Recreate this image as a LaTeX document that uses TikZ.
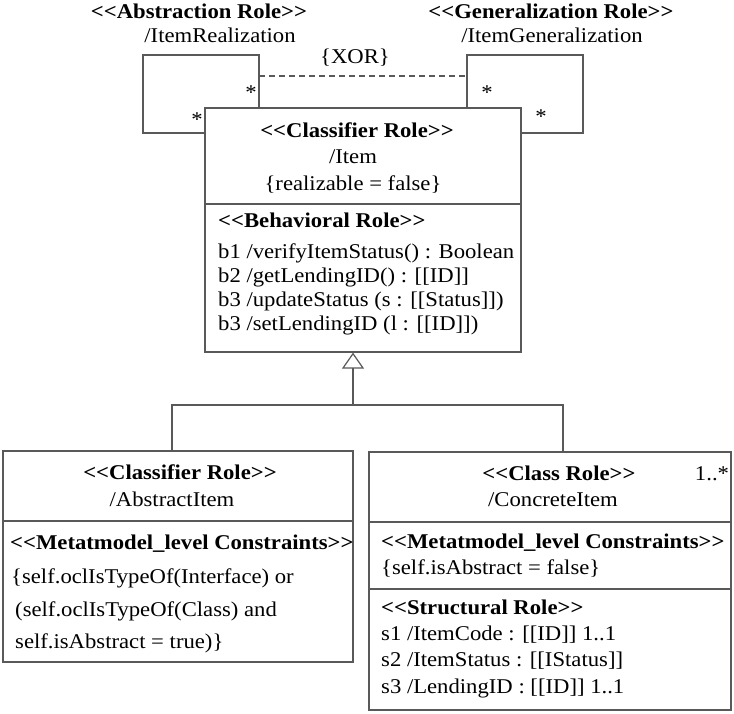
\documentclass[tikz,border=0pt]{standalone}
\usepackage{fontspec}
\setmainfont{Liberation Serif}[Ligatures=TeXOff, FakeStretch=1.08]
\usetikzlibrary{arrows.meta}

\begin{document}
\begin{tikzpicture}[x=1pt, y=-1pt, font=\fontsize{21}{24}\selectfont,
	box/.style = {draw=black!65, line width=1.2pt, inner sep=0pt},
	role/.style = {font=\fontsize{21}{24}\selectfont\bfseries, anchor=base},
	txt/.style = {anchor=base west, inner sep=0pt},
	lbl/.style = {anchor=base, inner sep=0pt},
	wire/.style = {draw=black!65, line width=1.2pt},
	genarrow/.style = {wire, -{Triangle[open, length=16pt, width=22pt]}}]
	\useasboundingbox (0,0) rectangle (734,713);
	% class boxes
	\node[box, minimum width=316, minimum height=244] (item) at (363,230) {};
	\node[box, minimum width=350, minimum height=211] (absitem) at (178,556.5) {};
	\node[box, minimum width=362, minimum height=258] (concitem) at (550,581) {};
	\draw[wire] (205,204) -- (521,204);
	\draw[wire] (3,521) -- (353,521);
	\draw[wire] (369,522) -- (731,522);
	\draw[wire] (369,589) -- (731,589);
	% self associations
	\coordinate (arA) at (259,108);
	\coordinate (arB) at (205,133);
	\coordinate (grA) at (467,108);
	\coordinate (grB) at (521,133);
	\draw[wire] (arA) |- (143,55) |- (arB);
	\draw[wire] (grA) |- (583,55) |- (grB);
	\draw[wire, dashed, dash pattern=on 6pt off 4pt] (259,76) -- (467,76);
	\node[lbl] (xor) at (355,63) {\{XOR\}};
	\node[role] (abrole) at (199,18) {<<Abstraction Role>>};
	\node[lbl] (abname) at (220,42) {/ItemRealization};
	\node[role] (grrole) at (551,18) {<<Generalization Role>>};
	\node[lbl] (grname) at (552,42) {/ItemGeneralization};
	\node[lbl] (m1) at (251,99) {*};
	\node[lbl] (m2) at (197,126) {*};
	\node[lbl] (m3) at (487,99) {*};
	\node[lbl] (m4) at (541,123) {*};
	% Item
	\node[role] (itemrole) at (357,137) {<<Classifier Role>>};
	\node[lbl] (itemname) at (353,163) {/Item};
	\node[lbl] (itemtag) at (353,190) {\{realizable = false\}};
	\node[role, anchor=base west, inner sep=0pt] (behrole) at (218,227) {<<Behavioral Role>>};
	\node[txt] (b1) at (218,258) {b1 /verifyItemStatus() : Boolean};
	\node[txt] (b2) at (218,282) {b2 /getLendingID() : [[ID]]};
	\node[txt] (b3) at (218,306) {b3 /updateStatus (s : [[Status]])};
	\node[txt] (b4) at (218,330) {b3 /setLendingID (l : [[ID]])};
	% generalization
	\coordinate (gen) at (353,405);
	\draw[wire] (172,451) |- (gen) -| (563,452);
	\draw[genarrow] (gen) -- (item.south -| gen);
	% AbstractItem
	\node[role] (absrole) at (180,479) {<<Classifier Role>>};
	\node[lbl] (absname) at (172,506) {/AbstractItem};
	\node[role, anchor=base west, inner sep=0pt] (absmeta) at (10,549) {<<Metatmodel\_level Constraints>>};
	\node[txt] (c1) at (11,583) {\{self.oclIsTypeOf(Interface) or};
	\node[txt] (c2) at (15,616) {(self.oclIsTypeOf(Class) and};
	\node[txt] (c3) at (15,648) {self.isAbstract = true)\}};
	% ConcreteItem
	\node[role] (concrole) at (559,480) {<<Class Role>>};
	\node[lbl] (mult) at (712,480) {1..*};
	\node[lbl] (concname) at (553,506) {/ConcreteItem};
	\node[role, anchor=base west, inner sep=0pt] (concmeta) at (381,548) {<<Metatmodel\_level Constraints>>};
	\node[txt] (d1) at (381,574) {\{self.isAbstract = false\}};
	\node[role, anchor=base west, inner sep=0pt] (strrole) at (381,614) {<<Structural Role>>};
	\node[txt] (s1) at (381,640) {s1 /ItemCode : [[ID]] 1..1};
	\node[txt] (s2) at (381,666) {s2 /ItemStatus : [[IStatus]]};
	\node[txt] (s3) at (381,693) {s3 /LendingID : [[ID]] 1..1};
\end{tikzpicture}
\end{document}
